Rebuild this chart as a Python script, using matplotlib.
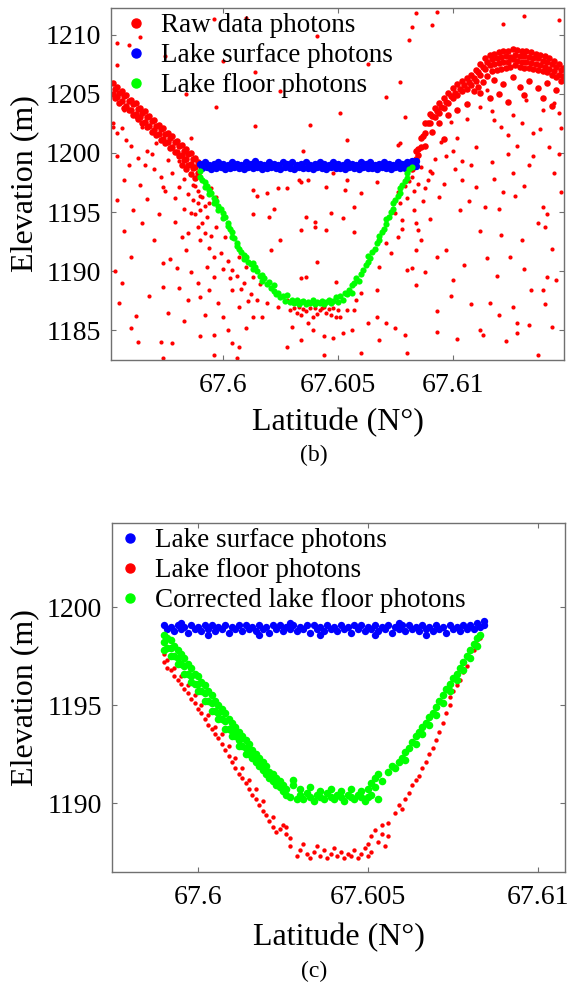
import numpy as np
import matplotlib.pyplot as plt
from matplotlib.lines import Line2D

plt.rcParams['font.family'] = ['Liberation Serif', 'DejaVu Serif']

RED = '#ff0000'
BLUE = '#0000ff'
GREEN = '#00ff00'

# ---------------- panel (b): raw photons around the lake ----------------
# dense ground return on the left bank (lat, elevation)
raw_b_left_bank = [
    (67.5952, 1205.9), (67.5953, 1205.4), (67.5952, 1205.0), (67.5953, 1204.6),
    (67.5954, 1205.6), (67.5955, 1205.1), (67.5954, 1204.7), (67.5955, 1204.2),
    (67.5956, 1205.2), (67.5957, 1204.8), (67.5956, 1204.4), (67.5957, 1203.8),
    (67.5958, 1204.9), (67.5959, 1204.4), (67.5958, 1204.0), (67.5959, 1203.6),
    (67.5960, 1204.5), (67.5961, 1204.1), (67.5960, 1203.6), (67.5961, 1203.2),
    (67.5962, 1204.2), (67.5963, 1203.7), (67.5962, 1203.3), (67.5963, 1202.9),
    (67.5964, 1203.8), (67.5965, 1203.4), (67.5964, 1203.0), (67.5965, 1202.5),
    (67.5966, 1203.5), (67.5967, 1203.0), (67.5966, 1202.6), (67.5967, 1202.2),
    (67.5968, 1203.1), (67.5969, 1202.7), (67.5968, 1202.3), (67.5969, 1201.8),
    (67.5970, 1202.8), (67.5971, 1202.3), (67.5970, 1201.9), (67.5971, 1201.5),
    (67.5972, 1202.4), (67.5973, 1202.0), (67.5972, 1201.6), (67.5973, 1201.1),
    (67.5974, 1202.1), (67.5975, 1201.6), (67.5974, 1201.2), (67.5975, 1200.8),
    (67.5976, 1201.7), (67.5977, 1201.3), (67.5976, 1200.9), (67.5977, 1200.4),
    (67.5978, 1201.4), (67.5979, 1200.9), (67.5978, 1200.5), (67.5979, 1200.1),
    (67.5980, 1201.0), (67.5981, 1200.6), (67.5980, 1200.1), (67.5981, 1199.7),
    (67.5982, 1200.7), (67.5983, 1200.2), (67.5982, 1199.8), (67.5983, 1199.4), (67.5982, 1199.0),
    (67.5984, 1200.3), (67.5985, 1199.9), (67.5984, 1199.5), (67.5985, 1199.0), (67.5984, 1198.6),
    (67.5986, 1200.0), (67.5987, 1199.5), (67.5986, 1199.1), (67.5987, 1198.7), (67.5986, 1198.2),
    (67.5988, 1199.6), (67.5989, 1199.2), (67.5988, 1198.8), (67.5989, 1198.3), (67.5988, 1197.9),
]

# dense ground return on the right bank
raw_b_right_bank = [
    (67.6082, 1199.3), (67.6083, 1199.3), (67.6082, 1198.6),
    (67.6084, 1200.2), (67.6085, 1200.3), (67.6084, 1199.5),
    (67.6086, 1201.3), (67.6087, 1201.4), (67.6086, 1200.5),
    (67.6088, 1202.5), (67.6089, 1202.5), (67.6088, 1201.7),
    (67.6090, 1203.3), (67.6091, 1203.1), (67.6090, 1202.5),
    (67.6092, 1203.8), (67.6093, 1203.5), (67.6092, 1203.0),
    (67.6094, 1204.2), (67.6095, 1203.9), (67.6094, 1203.4),
    (67.6096, 1204.6), (67.6097, 1204.3), (67.6096, 1203.8),
    (67.6098, 1205.1), (67.6099, 1204.8), (67.6098, 1204.2),
    (67.6100, 1205.5), (67.6101, 1205.1), (67.6100, 1204.6),
    (67.6102, 1205.8), (67.6103, 1205.4), (67.6102, 1204.9),
    (67.6104, 1206.1), (67.6105, 1205.7), (67.6104, 1205.2),
    (67.6106, 1206.3), (67.6107, 1206.0), (67.6106, 1205.4),
    (67.6108, 1206.6), (67.6109, 1206.3), (67.6108, 1205.7), (67.6109, 1205.2),
    (67.6110, 1207.0), (67.6111, 1206.8), (67.6110, 1206.1), (67.6111, 1205.6),
    (67.6112, 1207.5), (67.6113, 1207.3), (67.6112, 1206.6), (67.6113, 1206.0),
    (67.6114, 1208.0), (67.6115, 1207.7), (67.6114, 1207.1), (67.6115, 1206.5),
    (67.6116, 1208.3), (67.6117, 1207.9), (67.6116, 1207.4), (67.6117, 1206.9),
    (67.6118, 1208.4), (67.6119, 1208.0), (67.6118, 1207.5), (67.6119, 1207.0),
    (67.6120, 1208.5), (67.6121, 1208.1), (67.6120, 1207.6), (67.6121, 1207.1),
    (67.6122, 1208.6), (67.6123, 1208.2), (67.6122, 1207.7), (67.6123, 1207.2),
    (67.6124, 1208.6), (67.6125, 1208.1), (67.6124, 1207.7), (67.6125, 1207.3),
    (67.6126, 1208.8), (67.6127, 1208.3), (67.6126, 1207.9), (67.6127, 1207.4),
    (67.6128, 1208.7), (67.6129, 1208.2), (67.6128, 1207.8), (67.6129, 1207.3),
    (67.6130, 1208.6), (67.6131, 1208.2), (67.6130, 1207.7), (67.6131, 1207.2),
    (67.6132, 1208.6), (67.6133, 1208.1), (67.6132, 1207.7), (67.6133, 1207.2),
    (67.6134, 1208.5), (67.6135, 1208.0), (67.6134, 1207.6), (67.6135, 1207.1),
    (67.6136, 1208.4), (67.6137, 1208.0), (67.6136, 1207.5), (67.6137, 1207.0),
    (67.6138, 1208.3), (67.6139, 1207.8), (67.6138, 1207.4), (67.6139, 1206.9),
    (67.6140, 1208.2), (67.6141, 1207.7), (67.6140, 1207.3), (67.6141, 1206.8),
    (67.6142, 1208.0), (67.6143, 1207.5), (67.6142, 1207.1), (67.6143, 1206.6),
    (67.6144, 1207.8), (67.6145, 1207.3), (67.6144, 1206.9), (67.6145, 1206.4),
    (67.6146, 1207.5), (67.6147, 1207.0), (67.6146, 1206.6), (67.6147, 1206.1),
    (67.6148, 1207.2), (67.6148, 1206.5),
    (67.6118, 1206.2), (67.6122, 1205.8), (67.6126, 1206.4), (67.6129, 1205.6),
    (67.6133, 1206.1), (67.6137, 1205.5), (67.6141, 1205.9), (67.6145, 1205.3),
    (67.6120, 1205.0), (67.6131, 1204.9), (67.6139, 1204.6), (67.6124, 1204.3),
    (67.6112, 1205.1), (67.6116, 1204.6), (67.6143, 1204.0), (67.6106, 1204.1),
    (67.6102, 1203.6), (67.6098, 1203.2), (67.6094, 1202.5), (67.6091, 1201.8),
    (67.6096, 1201.2), (67.6088, 1200.6), (67.6085, 1199.8),
]

# scattered noise photons (background, sub-surface, lake bottom)
raw_b_noise = [
    (67.5954, 1209.3), (67.5959, 1209.1), (67.5954, 1207.4), (67.5964, 1209.8),
    (67.5984, 1205.0), (67.5997, 1203.9), (67.6014, 1202.3), (67.5986, 1201.3),
    (67.5996, 1211.3), (67.6010, 1211.4), (67.6014, 1206.8), (67.6084, 1211.8),
    (67.6093, 1211.9), (67.6082, 1210.6), (67.6081, 1209.5), (67.6091, 1210.8),
    (67.6131, 1211.6), (67.6051, 1203.4), (67.6071, 1204.7), (67.6077, 1206.0),
    (67.6054, 1201.1), (67.6079, 1203.0), (67.6076, 1200.7), (67.6035, 1200.2),
    (67.6077, 1200.8), (67.5975, 1208.2), (67.6025, 1205.2), (67.6041, 1209.9),
    (67.6063, 1207.5), (67.6000, 1207.8), (67.6122, 1210.9), (67.6146, 1211.2),
    (67.6038, 1202.4),
    (67.5952, 1202.5), (67.5954, 1201.7), (67.5962, 1203.0), (67.5958, 1201.1),
    (67.5963, 1199.6), (67.5954, 1199.7), (67.5967, 1200.2), (67.5971, 1200.8),
    (67.5970, 1198.6), (67.5976, 1199.4), (67.5978, 1198.3), (67.5981, 1197.1),
    (67.5974, 1197.1), (67.5964, 1197.3), (67.5957, 1197.7), (67.5984, 1198.8),
    (67.5969, 1201.8), (67.5957, 1203.6), (67.5965, 1202.2), (67.5978, 1200.5),
    (67.5952, 1202.2), (67.5956, 1202.1), (67.5960, 1200.6), (67.5966, 1199.0),
    (67.5973, 1198.0), (67.5979, 1196.2), (67.5983, 1195.3), (67.5959, 1199.0),
    (67.5969, 1199.9), (67.5975, 1196.8), (67.5981, 1199.3), (67.5983, 1197.8),
    (67.5987, 1197.3), (67.5985, 1196.5),
    (67.5954, 1196.0), (67.5965, 1194.1), (67.5970, 1192.6), (67.5960, 1191.2),
    (67.5953, 1190.0), (67.5956, 1189.0), (67.5974, 1190.7), (67.5974, 1188.7),
    (67.5977, 1191.0), (67.5979, 1194.2), (67.5982, 1192.9), (67.5984, 1191.8),
    (67.5981, 1188.6), (67.5985, 1187.6), (67.5989, 1189.0), (67.5990, 1187.8),
    (67.5994, 1188.4), (67.5998, 1187.3), (67.6000, 1186.1), (67.5990, 1184.5),
    (67.5996, 1184.6), (67.6002, 1185.0), (67.6004, 1183.9), (67.6007, 1183.6),
    (67.6010, 1185.2), (67.6013, 1186.1), (67.6017, 1186.1), (67.6019, 1187.3),
    (67.6024, 1187.0), (67.6028, 1187.6), (67.6015, 1187.6), (67.6007, 1187.0),
    (67.6004, 1188.4), (67.6009, 1189.0), (67.6013, 1189.5), (67.5973, 1184.0),
    (67.5978, 1183.9), (67.5963, 1184.0), (67.5960, 1185.2), (67.5974, 1182.7),
    (67.5996, 1182.9), (67.6006, 1182.7), (67.5985, 1193.2), (67.5980, 1190.3),
    (67.5976, 1186.5), (67.5968, 1187.9), (67.5962, 1186.2), (67.5957, 1193.4),
    (67.5961, 1195.2), (67.5967, 1196.1), (67.5972, 1194.8), (67.5986, 1189.9),
    (67.5983, 1185.8), (67.5992, 1186.3), (67.5955, 1187.3),
    (67.5990, 1195.2), (67.5991, 1194.1), (67.5993, 1194.6), (67.5997, 1193.7),
    (67.5990, 1192.6), (67.5994, 1192.0), (67.5999, 1191.5), (67.6002, 1190.9),
    (67.6004, 1190.1), (67.5993, 1190.4), (67.5996, 1189.5), (67.6007, 1191.2),
    (67.6010, 1190.4), (67.5989, 1195.8), (67.5994, 1195.8), (67.5991, 1196.3),
    (67.6001, 1192.9), (67.5989, 1193.7), (67.5997, 1196.3),
    (67.5988, 1197.2), (67.5989, 1196.8), (67.5990, 1196.4), (67.5992, 1195.5),
    (67.5988, 1194.8), (67.5992, 1193.2), (67.5995, 1193.0), (67.5996, 1191.2),
    (67.6000, 1190.2), (67.6003, 1189.4), (67.6006, 1189.6), (67.6008, 1188.5),
    (67.6012, 1188.1), (67.6016, 1188.9), (67.6011, 1187.5), (67.5995, 1197.0),
    (67.5987, 1196.0), (67.5986, 1194.9),
    (67.6013, 1196.9), (67.6024, 1197.0), (67.6028, 1197.0), (67.6019, 1196.6),
    (67.6033, 1197.7), (67.6037, 1197.7), (67.6045, 1197.1), (67.6054, 1197.7),
    (67.6053, 1196.9), (67.6060, 1196.6), (67.6067, 1197.5), (67.6057, 1195.4),
    (67.6015, 1196.4), (67.6022, 1195.3), (67.6013, 1194.8), (67.6020, 1194.6),
    (67.6036, 1194.6), (67.6040, 1193.7), (67.6034, 1193.5), (67.6047, 1194.9),
    (67.6052, 1194.5), (67.6045, 1193.5), (67.6025, 1192.6), (67.6021, 1191.8),
    (67.6057, 1193.3), (67.6041, 1190.8), (67.6036, 1189.5), (67.6049, 1189.1),
    (67.6034, 1189.4), (67.6040, 1194.2), (67.6048, 1198.3), (67.6034, 1197.5),
    (67.6029, 1186.7), (67.6034, 1186.3), (67.6038, 1186.9), (67.6039, 1186.1),
    (67.6042, 1186.7), (67.6045, 1186.5), (67.6048, 1186.9), (67.6051, 1186.1),
    (67.6054, 1186.7), (67.6058, 1187.6), (67.6060, 1188.2), (67.6057, 1186.7),
    (67.6037, 1185.6), (67.6030, 1185.3), (67.6034, 1184.2), (67.6044, 1184.5),
    (67.6048, 1184.4), (67.6052, 1184.8), (67.6039, 1185.0), (67.6028, 1183.6),
    (67.6044, 1182.9), (67.6063, 1185.6), (67.6067, 1186.1), (67.6071, 1185.6),
    (67.6075, 1185.2), (67.6079, 1184.6), (67.6068, 1184.2), (67.6056, 1185.0),
    (67.6049, 1186.1), (67.6031, 1186.9), (67.6033, 1187.0), (67.6036, 1186.6),
    (67.6040, 1186.9), (67.6041, 1186.4), (67.6043, 1186.9), (67.6046, 1186.8),
    (67.6047, 1186.3), (67.6050, 1186.7), (67.6035, 1186.8), (67.6044, 1187.0),
    (67.6032, 1186.5),
    (67.6077, 1195.8), (67.6078, 1194.3), (67.6076, 1192.9), (67.6068, 1190.4),
    (67.6067, 1188.4), (67.6080, 1190.1), (67.6082, 1190.3), (67.6084, 1191.8),
    (67.6086, 1192.6), (67.6085, 1193.5), (67.6084, 1194.1), (67.6087, 1195.9),
    (67.6076, 1196.7), (67.6075, 1194.9), (67.6073, 1191.5), (67.6071, 1192.4),
    (67.6081, 1197.6), (67.6083, 1196.8), (67.6079, 1197.2), (67.6082, 1198.0),
    (67.6085, 1197.4), (67.6080, 1196.2), (67.6083, 1195.2), (67.6078, 1193.6),
    (67.6094, 1196.3), (67.6103, 1195.2), (67.6114, 1195.4), (67.6120, 1195.3),
    (67.6127, 1196.4), (67.6139, 1195.4), (67.6141, 1194.8), (67.6140, 1193.7),
    (67.6147, 1196.7), (67.6121, 1193.1), (67.6130, 1192.6), (67.6097, 1191.8),
    (67.6093, 1191.2), (67.6115, 1191.1), (67.6125, 1191.2), (67.6100, 1189.3),
    (67.6141, 1189.5), (67.6145, 1189.3), (67.6084, 1188.8), (67.6108, 1187.2),
    (67.6116, 1187.3), (67.6120, 1186.3), (67.6126, 1187.0), (67.6134, 1188.4),
    (67.6139, 1188.4), (67.6140, 1187.2), (67.6112, 1185.0), (67.6113, 1184.6),
    (67.6128, 1185.6), (67.6133, 1185.5), (67.6128, 1184.8), (67.6093, 1186.6),
    (67.6093, 1184.9), (67.6137, 1182.9), (67.6080, 1183.1), (67.6060, 1183.1),
    (67.6096, 1197.4), (67.6101, 1198.6), (67.6107, 1195.9), (67.6118, 1197.8),
    (67.6124, 1199.9), (67.6131, 1197.2), (67.6137, 1194.1), (67.6143, 1191.9),
    (67.6146, 1199.9), (67.6112, 1193.4), (67.6105, 1190.5), (67.6099, 1187.9),
    (67.6119, 1189.6), (67.6131, 1190.2), (67.6123, 1184.1), (67.6143, 1185.3),
    (67.6102, 1184.3), (67.6088, 1189.9), (67.6090, 1194.4),
    (67.6115, 1205.3), (67.6117, 1203.5), (67.6121, 1202.2), (67.6126, 1203.2),
    (67.6132, 1204.5), (67.6135, 1201.7), (67.6139, 1203.6), (67.6142, 1200.5),
    (67.6147, 1202.1), (67.6117, 1199.2), (67.6110, 1200.5), (67.6102, 1201.3),
    (67.6097, 1199.7), (67.6104, 1197.7), (67.6126, 1198.3), (67.6135, 1199.7),
    (67.6144, 1198.3), (67.6122, 1196.7), (67.6110, 1197.1), (67.6089, 1197.7),
    (67.6086, 1198.8), (67.6092, 1199.5), (67.6095, 1200.9), (67.6099, 1202.6),
    (67.6106, 1202.9), (67.6112, 1203.9), (67.6130, 1202.5), (67.6144, 1204.2),
    (67.6108, 1199.0), (67.6128, 1200.6), (67.6090, 1198.5), (67.6088, 1197.0),
    (67.6091, 1198.3), (67.6118, 1202.8), (67.6124, 1201.5), (67.6138, 1202.0),
    (67.6146, 1203.4), (67.6133, 1199.0), (67.6104, 1199.3), (67.6100, 1200.2),
]

surface_b = [
    (67.5990, 1199.1), (67.5991, 1198.7), (67.5992, 1199.2), (67.5993, 1198.8),
    (67.5994, 1199.0), (67.5995, 1198.6), (67.5996, 1199.1), (67.5997, 1198.7),
    (67.5998, 1199.2), (67.5999, 1198.8), (67.6000, 1199.1), (67.6001, 1198.6),
    (67.6002, 1199.0), (67.6003, 1198.7), (67.6004, 1199.2), (67.6005, 1198.8),
    (67.6006, 1199.1), (67.6007, 1198.7), (67.6008, 1199.0), (67.6009, 1198.6),
    (67.6010, 1199.2), (67.6011, 1198.8), (67.6012, 1199.1), (67.6013, 1198.7),
    (67.6014, 1199.3), (67.6015, 1198.8), (67.6016, 1199.1), (67.6017, 1198.6),
    (67.6018, 1199.0), (67.6019, 1198.7), (67.6020, 1199.2), (67.6021, 1198.8),
    (67.6022, 1199.1), (67.6023, 1198.7), (67.6024, 1199.0), (67.6025, 1198.6),
    (67.6026, 1199.2), (67.6027, 1198.8), (67.6028, 1199.1), (67.6029, 1198.7),
    (67.6030, 1199.2), (67.6031, 1198.6), (67.6032, 1199.0), (67.6033, 1198.8),
    (67.6034, 1199.1), (67.6035, 1198.7), (67.6036, 1199.2), (67.6037, 1198.7),
    (67.6038, 1199.0), (67.6039, 1198.6), (67.6040, 1199.1), (67.6041, 1198.8),
    (67.6042, 1199.2), (67.6043, 1198.7), (67.6044, 1199.1), (67.6045, 1198.6),
    (67.6046, 1199.0), (67.6047, 1198.8), (67.6048, 1199.2), (67.6049, 1198.7),
    (67.6050, 1199.1), (67.6051, 1198.7), (67.6052, 1199.0), (67.6053, 1198.6),
    (67.6054, 1199.2), (67.6055, 1198.8), (67.6056, 1199.1), (67.6057, 1198.7),
    (67.6058, 1199.0), (67.6059, 1198.6), (67.6060, 1199.2), (67.6061, 1198.8),
    (67.6062, 1199.1), (67.6063, 1198.7), (67.6064, 1199.2), (67.6065, 1198.7),
    (67.6066, 1199.0), (67.6067, 1198.6), (67.6068, 1199.1), (67.6069, 1198.8),
    (67.6070, 1199.2), (67.6071, 1198.7), (67.6072, 1199.1), (67.6073, 1198.6),
    (67.6074, 1199.0), (67.6075, 1198.8), (67.6076, 1199.2), (67.6077, 1198.7),
    (67.6078, 1199.1), (67.6079, 1198.7), (67.6080, 1199.2), (67.6081, 1198.8),
    (67.6082, 1199.3), (67.6083, 1198.9), (67.6084, 1199.3), (67.6084, 1198.9),
]

floor_b = [
    (67.5990, 1198.5), (67.5990, 1198.0), (67.5991, 1197.7), (67.5992, 1197.5),
    (67.5992, 1197.1), (67.5993, 1197.2), (67.5994, 1196.9), (67.5994, 1196.5),
    (67.5995, 1196.6), (67.5996, 1196.2), (67.5996, 1195.8), (67.5997, 1195.9),
    (67.5998, 1195.5), (67.5998, 1195.2), (67.5999, 1195.3), (67.6000, 1194.9),
    (67.6000, 1194.5), (67.6001, 1194.6), (67.6002, 1194.1), (67.6002, 1193.8),
    (67.6003, 1193.6), (67.6004, 1193.3), (67.6004, 1192.9), (67.6005, 1192.8),
    (67.6006, 1192.4), (67.6006, 1192.1), (67.6007, 1191.9), (67.6008, 1191.6),
    (67.6009, 1191.4), (67.6009, 1191.0), (67.6010, 1191.2), (67.6011, 1190.8),
    (67.6012, 1190.6), (67.6013, 1190.7), (67.6013, 1190.2), (67.6014, 1190.4),
    (67.6015, 1190.0), (67.6016, 1189.6), (67.6017, 1189.7), (67.6017, 1189.2),
    (67.6018, 1189.4), (67.6019, 1188.9), (67.6020, 1189.1), (67.6021, 1188.6),
    (67.6022, 1188.3), (67.6022, 1188.8), (67.6023, 1188.1), (67.6024, 1188.2),
    (67.6025, 1187.8), (67.6026, 1187.9), (67.6027, 1187.5), (67.6028, 1188.0),
    (67.6029, 1187.4), (67.6030, 1187.6),
    (67.6031, 1187.3), (67.6032, 1187.6), (67.6033, 1187.2), (67.6034, 1187.4),
    (67.6035, 1187.5), (67.6036, 1187.2), (67.6037, 1187.4), (67.6038, 1187.3),
    (67.6039, 1187.6), (67.6040, 1187.2), (67.6041, 1187.4), (67.6042, 1187.3),
    (67.6043, 1187.5), (67.6044, 1187.2), (67.6045, 1187.4), (67.6046, 1187.6),
    (67.6047, 1187.3), (67.6048, 1187.5), (67.6049, 1187.8), (67.6050, 1187.4),
    (67.6051, 1187.9), (67.6052, 1187.6), (67.6053, 1188.2),
    (67.6054, 1188.1), (67.6055, 1188.4), (67.6056, 1188.2), (67.6056, 1188.8),
    (67.6057, 1189.0), (67.6058, 1189.4), (67.6059, 1189.2), (67.6060, 1189.8),
    (67.6061, 1190.1), (67.6062, 1190.5), (67.6063, 1190.8), (67.6063, 1191.3),
    (67.6064, 1191.1), (67.6065, 1191.6), (67.6066, 1191.9), (67.6067, 1192.4),
    (67.6068, 1192.6), (67.6068, 1193.0), (67.6069, 1193.3), (67.6070, 1193.6),
    (67.6071, 1194.0), (67.6071, 1194.4), (67.6072, 1194.6), (67.6073, 1195.0),
    (67.6074, 1195.3), (67.6074, 1195.8), (67.6075, 1196.0), (67.6076, 1196.4),
    (67.6077, 1196.6), (67.6077, 1197.0), (67.6078, 1197.3), (67.6079, 1197.6),
    (67.6080, 1197.9), (67.6080, 1198.3), (67.6081, 1198.6), (67.6082, 1198.8),
]

# ---------------- panel (c): surface, floor and corrected floor ----------------
surface_c = [
    (67.5990, 1199.1), (67.5991, 1198.9), (67.5992, 1199.0), (67.5993, 1198.8),
    (67.5994, 1199.1), (67.5995, 1198.9), (67.5996, 1199.0), (67.5997, 1198.7),
    (67.5998, 1199.1), (67.5999, 1198.9), (67.6000, 1199.0), (67.6001, 1198.8),
    (67.6002, 1199.1), (67.6003, 1198.9), (67.6004, 1199.1), (67.6005, 1198.8),
    (67.6006, 1199.0), (67.6007, 1198.9), (67.6008, 1199.1), (67.6009, 1198.7),
    (67.6010, 1199.0), (67.6011, 1198.9), (67.6012, 1199.1), (67.6013, 1198.8),
    (67.6014, 1199.1), (67.6015, 1198.9), (67.6016, 1199.0), (67.6017, 1198.8),
    (67.6018, 1199.1), (67.6019, 1198.9), (67.6020, 1199.0), (67.6021, 1198.7),
    (67.6022, 1199.1), (67.6023, 1198.9), (67.6024, 1199.1), (67.6025, 1198.8),
    (67.6026, 1199.0), (67.6027, 1198.9), (67.6028, 1199.1), (67.6029, 1198.8),
    (67.6030, 1199.0), (67.6031, 1198.9), (67.6032, 1199.1), (67.6033, 1198.7),
    (67.6034, 1199.1), (67.6035, 1198.9), (67.6036, 1199.0), (67.6037, 1198.8),
    (67.6038, 1199.1), (67.6039, 1198.9), (67.6040, 1199.0), (67.6041, 1198.8),
    (67.6042, 1199.1), (67.6043, 1198.9), (67.6044, 1199.0), (67.6045, 1198.7),
    (67.6046, 1199.1), (67.6047, 1198.9), (67.6048, 1199.1), (67.6049, 1198.8),
    (67.6050, 1199.0), (67.6051, 1198.9), (67.6052, 1199.1), (67.6053, 1198.8),
    (67.6054, 1199.0), (67.6055, 1198.9), (67.6056, 1199.1), (67.6057, 1198.7),
    (67.6058, 1199.0), (67.6059, 1198.9), (67.6060, 1199.1), (67.6061, 1198.8),
    (67.6062, 1199.1), (67.6063, 1198.9), (67.6064, 1199.0), (67.6065, 1198.8),
    (67.6066, 1199.1), (67.6067, 1198.9), (67.6068, 1199.0), (67.6069, 1198.8),
    (67.6070, 1199.1), (67.6071, 1198.9), (67.6072, 1199.0), (67.6073, 1198.7),
    (67.6074, 1199.1), (67.6075, 1198.9), (67.6076, 1199.0), (67.6077, 1198.8),
    (67.6078, 1199.1), (67.6079, 1198.9), (67.6080, 1199.1), (67.6081, 1198.9),
    (67.6082, 1199.2), (67.6083, 1199.0), (67.6084, 1199.3), (67.6084, 1199.1),
    (67.6003, 1198.6), (67.6018, 1198.6), (67.6036, 1198.6), (67.6052, 1198.6),
    (67.6067, 1198.6), (67.5995, 1199.2), (67.6027, 1199.2), (67.6059, 1199.2),
]

floor_c = [
    (67.5990, 1197.6), (67.5990, 1197.2), (67.5991, 1196.9), (67.5991, 1197.3),
    (67.5992, 1196.8), (67.5993, 1196.5), (67.5993, 1196.9), (67.5994, 1196.3),
    (67.5995, 1196.1), (67.5995, 1196.5), (67.5996, 1195.8), (67.5997, 1195.6),
    (67.5997, 1196.0), (67.5998, 1195.3), (67.5999, 1195.1), (67.5999, 1195.5),
    (67.6000, 1194.8), (67.6001, 1194.6), (67.6001, 1195.0), (67.6002, 1194.3),
    (67.6003, 1194.0), (67.6003, 1194.5), (67.6004, 1193.8), (67.6005, 1193.5),
    (67.6005, 1193.9), (67.6006, 1193.3), (67.6007, 1193.0), (67.6007, 1193.5),
    (67.6008, 1192.7), (67.6009, 1192.4), (67.6009, 1192.9), (67.6010, 1192.1),
    (67.6011, 1191.8), (67.6011, 1192.3), (67.6012, 1191.5), (67.6013, 1191.3),
    (67.6013, 1191.8), (67.6014, 1191.0), (67.6015, 1190.7), (67.6015, 1191.2),
    (67.6016, 1190.4), (67.6017, 1190.2), (67.6017, 1190.7), (67.6018, 1189.9),
    (67.6019, 1189.6), (67.6019, 1190.1), (67.6020, 1189.4), (67.6021, 1189.1),
    (67.6022, 1188.8), (67.6022, 1189.3), (67.6023, 1188.5), (67.6024, 1188.7),
    (67.6025, 1188.9), (67.6026, 1188.4), (67.6026, 1188.8), (67.6027, 1187.8),
    (67.6027, 1188.2),
    (67.6029, 1187.3), (67.6030, 1187.6), (67.6031, 1187.9), (67.6032, 1187.4),
    (67.6033, 1187.2), (67.6034, 1187.5), (67.6035, 1187.8), (67.6036, 1187.3),
    (67.6037, 1187.6), (67.6038, 1187.2), (67.6039, 1187.4), (67.6040, 1187.7),
    (67.6041, 1187.3), (67.6042, 1187.5), (67.6043, 1187.2), (67.6044, 1187.4),
    (67.6045, 1187.3), (67.6046, 1187.6), (67.6047, 1187.2), (67.6048, 1187.4),
    (67.6049, 1187.7), (67.6050, 1187.3), (67.6050, 1187.9), (67.6051, 1188.3),
    (67.6051, 1187.5), (67.6052, 1188.6), (67.6053, 1188.0), (67.6054, 1188.9),
    (67.6054, 1188.4), (67.6055, 1187.8), (67.6056, 1188.3), (67.6056, 1189.0),
    (67.6058, 1189.5), (67.6059, 1189.9), (67.6060, 1189.7), (67.6061, 1190.2),
    (67.6062, 1190.5), (67.6063, 1190.9), (67.6064, 1191.2), (67.6065, 1191.4),
    (67.6066, 1191.8), (67.6067, 1192.1), (67.6068, 1192.5), (67.6069, 1192.8),
    (67.6070, 1193.2), (67.6071, 1193.6), (67.6072, 1194.1), (67.6073, 1194.6),
    (67.6074, 1195.0), (67.6074, 1195.4), (67.6075, 1195.7), (67.6076, 1196.0),
    (67.6077, 1196.3), (67.6078, 1196.7), (67.6079, 1197.0), (67.6080, 1197.4),
    (67.6081, 1197.8), (67.6082, 1198.1), (67.6083, 1198.4),
]

corrected_c = [
    (67.5990, 1198.6), (67.5990, 1198.2), (67.5990, 1197.8), (67.5991, 1198.4),
    (67.5991, 1197.9), (67.5992, 1198.3), (67.5992, 1197.9), (67.5992, 1197.5),
    (67.5993, 1198.0), (67.5993, 1197.5), (67.5994, 1197.8), (67.5994, 1197.4),
    (67.5994, 1197.1), (67.5995, 1197.6), (67.5995, 1197.1), (67.5996, 1197.4),
    (67.5996, 1197.0), (67.5996, 1196.6), (67.5997, 1197.1), (67.5997, 1196.6),
    (67.5998, 1196.9), (67.5998, 1196.5), (67.5998, 1196.2), (67.5999, 1196.6),
    (67.5999, 1196.1), (67.6000, 1196.5), (67.6000, 1196.1), (67.6000, 1195.7),
    (67.6001, 1196.2), (67.6001, 1195.7), (67.6002, 1196.0), (67.6002, 1195.6),
    (67.6002, 1195.2), (67.6003, 1195.7), (67.6003, 1195.2), (67.6004, 1195.5),
    (67.6004, 1195.1), (67.6004, 1194.7), (67.6005, 1195.2), (67.6005, 1194.7),
    (67.6006, 1195.0), (67.6006, 1194.6), (67.6006, 1194.3), (67.6007, 1194.8),
    (67.6007, 1194.3), (67.6008, 1194.6), (67.6008, 1194.2), (67.6008, 1193.8),
    (67.6009, 1194.3), (67.6009, 1193.8), (67.6010, 1194.1), (67.6010, 1193.7),
    (67.6010, 1193.4), (67.6011, 1193.9), (67.6011, 1193.4), (67.6012, 1193.6),
    (67.6012, 1193.2), (67.6012, 1192.9), (67.6013, 1193.4), (67.6013, 1192.9),
    (67.6014, 1193.2), (67.6014, 1192.8), (67.6014, 1192.5), (67.6015, 1193.0),
    (67.6015, 1192.5), (67.6016, 1192.7), (67.6016, 1192.3), (67.6017, 1192.5),
    (67.6017, 1192.1), (67.6018, 1192.3), (67.6018, 1191.9), (67.6019, 1192.1),
    (67.6019, 1191.7), (67.6020, 1191.9), (67.6020, 1191.5), (67.6021, 1191.6),
    (67.6021, 1191.3), (67.6022, 1191.5), (67.6022, 1191.1), (67.6023, 1191.3),
    (67.6023, 1190.9), (67.6024, 1191.1), (67.6024, 1190.8), (67.6025, 1190.9),
    (67.6025, 1190.6), (67.6026, 1190.7), (67.6026, 1190.4),
    (67.6027, 1190.3), (67.6028, 1190.9), (67.6028, 1191.2), (67.6029, 1190.2),
    (67.6030, 1190.4), (67.6030, 1190.7), (67.6031, 1190.2), (67.6032, 1190.5),
    (67.6033, 1190.3), (67.6033, 1190.8), (67.6034, 1190.1), (67.6035, 1190.4),
    (67.6036, 1190.3), (67.6036, 1190.6), (67.6037, 1190.2), (67.6038, 1190.5),
    (67.6039, 1190.3), (67.6039, 1190.7), (67.6040, 1190.2), (67.6041, 1190.4),
    (67.6042, 1190.3), (67.6042, 1190.6), (67.6043, 1190.1), (67.6044, 1190.4),
    (67.6045, 1190.3), (67.6045, 1190.7), (67.6046, 1190.2), (67.6047, 1190.4),
    (67.6048, 1190.3), (67.6048, 1190.6), (67.6049, 1190.1), (67.6050, 1190.3),
    (67.6050, 1190.7), (67.6051, 1191.0), (67.6051, 1190.4), (67.6052, 1191.3),
    (67.6052, 1190.8), (67.6053, 1191.5), (67.6054, 1191.1), (67.6053, 1190.2),
    (67.6056, 1191.6), (67.6057, 1191.9), (67.6058, 1191.8), (67.6059, 1192.1),
    (67.6060, 1192.3), (67.6061, 1192.2), (67.6061, 1192.6), (67.6062, 1192.8),
    (67.6063, 1193.1), (67.6064, 1193.0), (67.6064, 1193.4), (67.6065, 1193.6),
    (67.6066, 1193.9), (67.6066, 1193.5), (67.6067, 1194.1), (67.6068, 1194.4),
    (67.6068, 1194.0), (67.6069, 1194.6), (67.6070, 1194.9), (67.6070, 1194.5),
    (67.6071, 1195.2), (67.6072, 1195.5), (67.6072, 1195.1), (67.6073, 1195.8),
    (67.6074, 1196.1), (67.6074, 1195.7), (67.6075, 1196.4), (67.6076, 1196.6),
    (67.6076, 1196.3), (67.6077, 1196.9), (67.6078, 1197.2), (67.6078, 1196.8),
    (67.6079, 1197.5), (67.6080, 1197.8), (67.6080, 1197.4), (67.6081, 1198.1),
    (67.6082, 1198.4), (67.6082, 1198.0), (67.6083, 1198.6),
]

lat_ticks = [67.6, 67.605, 67.61]
lat_labels = ['67.6', '67.605', '67.61']
elev_ticks_b = [1185, 1190, 1195, 1200, 1205, 1210]
elev_ticks_c = [1190, 1195, 1200]


def xy(points):
    arr = np.array(points)
    return arr[:, 0], arr[:, 1]


def dots(ax, points, color, size):
    x, y = xy(points)
    ax.scatter(x, y, s=size, c=color, marker='o', linewidths=0, zorder=2)


def style_axes(ax, xlim, ylim, yticks):
    ax.set_xlim(*xlim)
    ax.set_ylim(*ylim)
    ax.set_xticks(lat_ticks)
    ax.set_xticklabels(lat_labels)
    ax.set_yticks(yticks)
    ax.tick_params(direction='in', length=3.5, width=0.8, color='#707070',
                   top=True, right=True, labelsize=20)
    ax.tick_params(axis='x', pad=9)
    ax.tick_params(axis='y', pad=7)
    for sp in ax.spines.values():
        sp.set_color('#707070')
        sp.set_linewidth(1.0)
    ax.set_xlabel('Latitude (N°)', fontsize=23)
    ax.set_ylabel('Elevation (m)', fontsize=23)
    ax.xaxis.label.set_va('center')
    ax.yaxis.label.set_va('center')


def add_legend(ax, entries, handlelength, textpad):
    handles = [Line2D([], [], ls='', marker='o', markersize=6.5,
                      markerfacecolor=c, markeredgecolor=c) for c, _ in entries]
    ax.legend(handles, [t for _, t in entries], loc='upper left',
              bbox_to_anchor=(0, 1), frameon=False, fontsize=19.5,
              borderaxespad=0, borderpad=0.2, labelspacing=0.18,
              handlelength=handlelength, handletextpad=textpad)


fig = plt.figure(figsize=(5.7, 9.82), dpi=100)

ax_b = fig.add_axes([0.1947, 0.6334, 0.7947, 0.3585])
dots(ax_b, raw_b_noise, RED, 9)
dots(ax_b, raw_b_left_bank, RED, 22)
dots(ax_b, raw_b_right_bank, RED, 22)
dots(ax_b, surface_b, BLUE, 28)
dots(ax_b, floor_b, GREEN, 20)
style_axes(ax_b, (67.59513, 67.61483), (1182.5, 1212.25), elev_ticks_b)
ax_b.xaxis.set_label_coords(0.5, -0.179)
ax_b.yaxis.set_label_coords(-0.19, 0.5)
add_legend(ax_b, [(RED, 'Raw data photons'), (BLUE, 'Lake surface photons'),
                  (GREEN, 'Lake floor photons')], 1.45, 0.2)

ax_c = fig.add_axes([0.1965, 0.112, 0.7947, 0.3554])
dots(ax_c, floor_c, RED, 10)
dots(ax_c, surface_c, BLUE, 28)
dots(ax_c, corrected_c, GREEN, 30)
style_axes(ax_c, (67.59747, 67.61079), (1186.48, 1204.29), elev_ticks_c)
ax_c.xaxis.set_label_coords(0.5, -0.189)
ax_c.yaxis.set_label_coords(-0.192, 0.5)
add_legend(ax_c, [(BLUE, 'Lake surface photons'), (RED, 'Lake floor photons'),
                  (GREEN, 'Corrected lake floor photons')], 0.95, 0.45)

fig.text(314 / 570, 1 - 455 / 982, '(b)', ha='center', va='center', fontsize=17)
fig.text(314 / 570, 1 - 971 / 982, '(c)', ha='center', va='center', fontsize=17)

fig.savefig('out.png', dpi=100, facecolor='white')
